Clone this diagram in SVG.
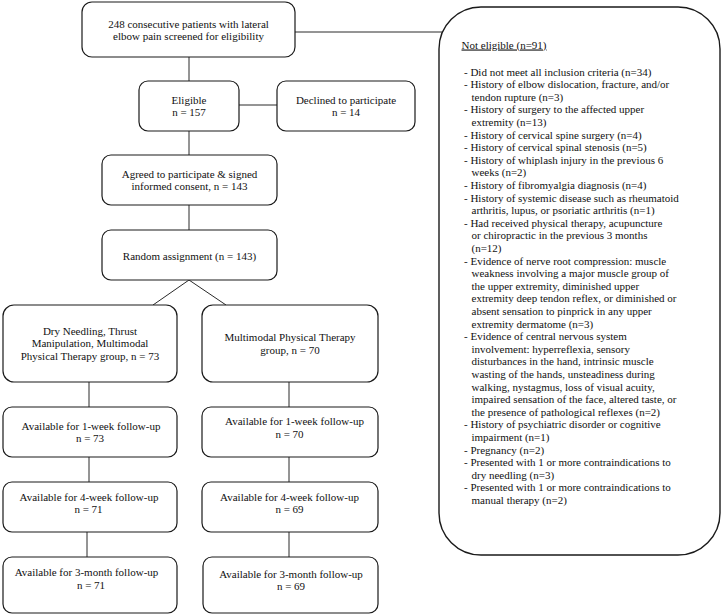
<svg xmlns="http://www.w3.org/2000/svg" width="722" height="615" viewBox="0 0 722 615">
<style>
.box{fill:#fff;stroke:#1a1a1a;stroke-width:1.2}
.panel{fill:#fff;stroke:#1a1a1a;stroke-width:1.4}
.c{stroke:#2a2a2a;stroke-width:1;fill:none}
text{font-family:"Liberation Serif","Times New Roman",serif;font-size:11px;fill:#111}
.m{text-anchor:middle}
</style>
<rect width="722" height="615" fill="#fff"/>
<g id="connectors">
<line class="c" x1="295" y1="32" x2="444" y2="32"/>
<line class="c" x1="189" y1="57" x2="189" y2="81"/>
<line class="c" x1="239" y1="105" x2="277" y2="105"/>
<line class="c" x1="189" y1="131" x2="189" y2="155"/>
<line class="c" x1="189" y1="205" x2="189" y2="230"/>
<line class="c" x1="189" y1="280" x2="153" y2="305"/>
<line class="c" x1="189" y1="280" x2="226" y2="305"/>
<line class="c" x1="89" y1="382" x2="89" y2="407"/>
<line class="c" x1="289" y1="382" x2="289" y2="407"/>
<line class="c" x1="89" y1="457" x2="89" y2="482"/>
<line class="c" x1="289" y1="457" x2="289" y2="482"/>
<line class="c" x1="87" y1="532" x2="87" y2="557"/>
<line class="c" x1="289" y1="532" x2="289" y2="557"/>
</g>
<g id="screened">
<rect class="box" x="82" y="2" width="213" height="55" rx="10"/>
<text class="m" x="188.5" y="27.5">248 consecutive patients with lateral</text>
<text class="m" x="188.5" y="40">elbow pain screened for eligibility</text>
</g>
<g id="eligible">
<rect class="box" x="139" y="81" width="100" height="50" rx="9"/>
<text class="m" x="189" y="103.5">Eligible</text>
<text class="m" x="189" y="116">n = 157</text>
</g>
<g id="declined">
<rect class="box" x="277" y="81" width="138" height="50" rx="9"/>
<text class="m" x="346" y="103.5">Declined to participate</text>
<text class="m" x="346" y="116">n = 14</text>
</g>
<g id="agreed">
<rect class="box" x="102" y="155" width="175" height="50" rx="9"/>
<text class="m" x="189.5" y="177.5">Agreed to participate &amp; signed</text>
<text class="m" x="189.5" y="190">informed consent, n = 143</text>
</g>
<g id="random">
<rect class="box" x="102" y="230" width="175" height="50" rx="9"/>
<text class="m" x="189.5" y="259.5">Random assignment (n = 143)</text>
</g>
<g id="group-dn">
<rect class="box" x="3" y="305" width="174" height="77" rx="11"/>
<text class="m" x="90" y="334.5">Dry Needling, Thrust</text>
<text class="m" x="90" y="347">Manipulation, Multimodal</text>
<text class="m" x="90" y="360">Physical Therapy group, n = 73</text>
</g>
<g id="group-mpt">
<rect class="box" x="202" y="305" width="176" height="77" rx="11"/>
<text class="m" x="290" y="341">Multimodal Physical Therapy</text>
<text class="m" x="290" y="354">group, n = 70</text>
</g>
<g id="dn-1wk">
<rect class="box" x="3" y="407" width="174" height="50" rx="9"/>
<text class="m" x="91" y="429.5">Available for 1-week follow-up</text>
<text class="m" x="90" y="442">n = 73</text>
</g>
<g id="mpt-1wk">
<rect class="box" x="202" y="407" width="176" height="50" rx="9"/>
<text class="m" x="294.5" y="425">Available for 1-week follow-up</text>
<text class="m" x="289.5" y="437.5">n = 70</text>
</g>
<g id="dn-4wk">
<rect class="box" x="3" y="482" width="174" height="50" rx="9"/>
<text class="m" x="89" y="500.5">Available for 4-week follow-up</text>
<text class="m" x="88.5" y="513">n = 71</text>
</g>
<g id="mpt-4wk">
<rect class="box" x="202" y="482" width="176" height="50" rx="9"/>
<text class="m" x="289.5" y="500.5">Available for 4-week follow-up</text>
<text class="m" x="289.5" y="513">n = 69</text>
</g>
<g id="dn-3mo">
<rect class="box" x="3" y="557" width="174" height="56" rx="9"/>
<text class="m" x="86.5" y="576">Available for 3-month follow-up</text>
<text class="m" x="91" y="588.5">n = 71</text>
</g>
<g id="mpt-3mo">
<rect class="box" x="203" y="557" width="175" height="56" rx="9"/>
<text class="m" x="291" y="577.5">Available for 3-month follow-up</text>
<text class="m" x="291" y="590">n = 69</text>
</g>
<g id="not-eligible">
<rect class="panel" x="439" y="7" width="281" height="548" rx="42"/>
<text x="461.5" y="48.5" text-decoration="underline">Not eligible (n=91)</text>
<text x="464" y="75.5">- Did not meet all inclusion criteria (n=34)</text>
<text x="464" y="88.1">- History of elbow dislocation, fracture, and/or</text>
<text x="471.5" y="100.7">tendon rupture (n=3)</text>
<text x="464" y="113.3">- History of surgery to the affected upper</text>
<text x="471.5" y="125.9">extremity (n=13)</text>
<text x="464" y="138.5">- History of cervical spine surgery (n=4)</text>
<text x="464" y="151.1">- History of cervical spinal stenosis (n=5)</text>
<text x="464" y="163.7">- History of whiplash injury in the previous 6</text>
<text x="471.5" y="176.3">weeks (n=2)</text>
<text x="464" y="188.9">- History of fibromyalgia diagnosis (n=4)</text>
<text x="464" y="201.5">- History of systemic disease such as rheumatoid</text>
<text x="471.5" y="214.1">arthritis, lupus, or psoriatic arthritis (n=1)</text>
<text x="464" y="226.7">- Had received physical therapy, acupuncture</text>
<text x="471.5" y="239.3">or chiropractic in the previous 3 months</text>
<text x="471.5" y="251.9">(n=12)</text>
<text x="464" y="264.5">- Evidence of nerve root compression: muscle</text>
<text x="471.5" y="277.1">weakness involving a major muscle group of</text>
<text x="471.5" y="289.7">the upper extremity, diminished upper</text>
<text x="471.5" y="302.3">extremity deep tendon reflex, or diminished or</text>
<text x="471.5" y="314.9">absent sensation to pinprick in any upper</text>
<text x="471.5" y="327.5">extremity dermatome (n=3)</text>
<text x="464" y="340.1">- Evidence of central nervous system</text>
<text x="471.5" y="352.7">involvement: hyperreflexia, sensory</text>
<text x="471.5" y="365.3">disturbances in the hand, intrinsic muscle</text>
<text x="471.5" y="377.9">wasting of the hands, unsteadiness during</text>
<text x="471.5" y="390.5">walking, nystagmus, loss of visual acuity,</text>
<text x="471.5" y="403.1">impaired sensation of the face, altered taste, or</text>
<text x="471.5" y="415.7">the presence of pathological reflexes (n=2)</text>
<text x="464" y="428.3">- History of psychiatric disorder or cognitive</text>
<text x="471.5" y="440.9">impairment (n=1)</text>
<text x="464" y="453.5">- Pregnancy (n=2)</text>
<text x="464" y="466.1">- Presented with 1 or more contraindications to</text>
<text x="471.5" y="478.7">dry needling (n=3)</text>
<text x="464" y="491.3">- Presented with 1 or more contraindications to</text>
<text x="471.5" y="503.9">manual therapy (n=2)</text>
</g>
</svg>
